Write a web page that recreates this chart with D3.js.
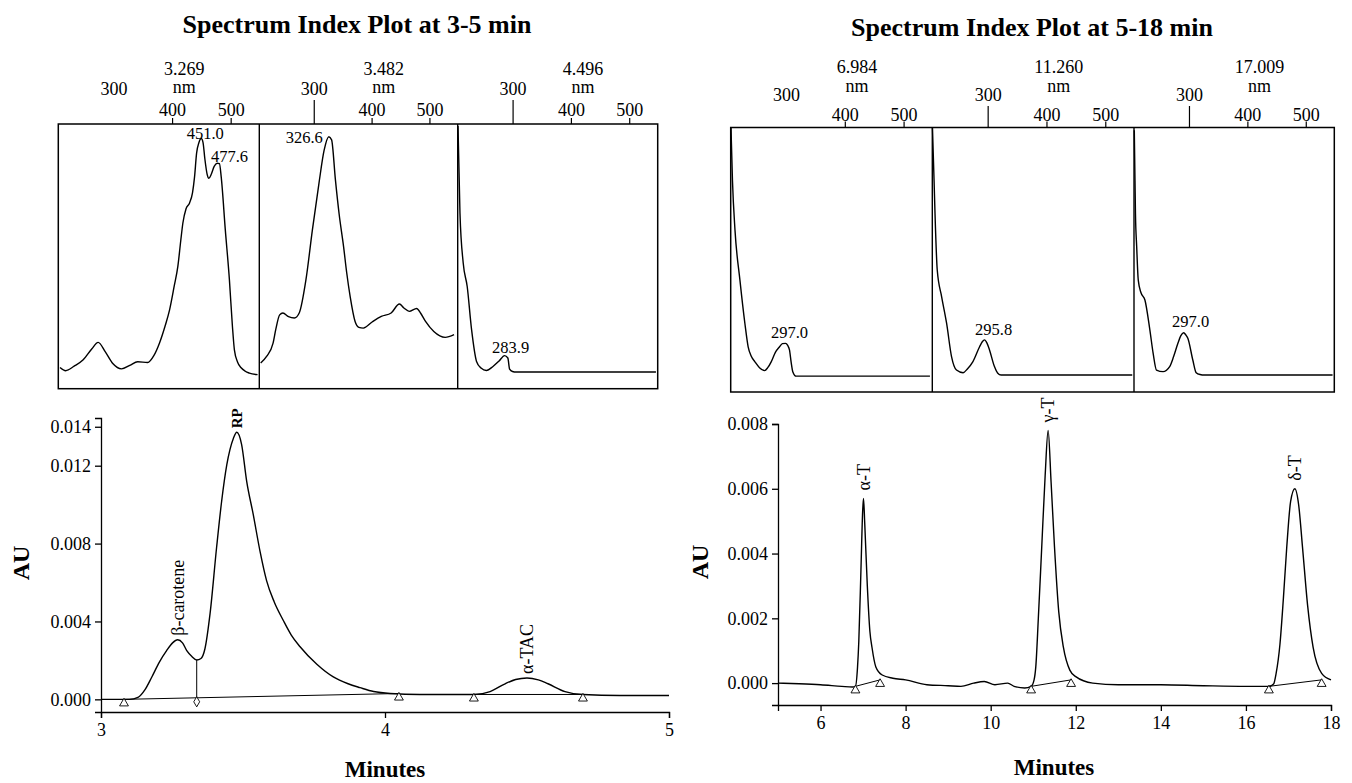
<!DOCTYPE html>
<html><head><meta charset="utf-8">
<script src="https://cdn.jsdelivr.net/npm/d3@7"></script>
<style>
body{margin:0;background:#fff}
svg{display:block}
</style>
</head><body>
<svg id="c" width="1352" height="783"></svg>
<script>
// ---------------- DATA ----------------
const titles = ["Spectrum Index Plot at 3-5 min", "Spectrum Index Plot at 5-18 min"];
const spectrumTicks = [300, 400, 500];
const spectrumTimesLeft = ["3.269", "3.482", "4.496"];
const spectrumTimesRight = ["6.984", "11.260", "17.009"];

// spectra: [wavelength nm, relative absorbance]
const specBetaCarotene = [[207.9,0.080],[217.6,0.068],[232,0.085],[247.5,0.109],[262,0.150],[273,0.175],[285,0.140],[298,0.095],[312.8,0.075],[327,0.088],[340.5,0.102],[357.5,0.099],[368,0.125],[377.9,0.174],[387,0.235],[394.9,0.298],[403,0.390],[409,0.462],[414,0.560],[417.6,0.626],[423,0.680],[429,0.702],[434,0.74],[437.5,0.80],[441,0.89],[445,0.93],[449,0.945],[452,0.93],[455,0.87],[459,0.81],[462,0.795],[466,0.81],[471,0.84],[476,0.852],[480,0.85],[483,0.80],[490,0.60],[497,0.411],[502,0.24],[505.5,0.147],[511,0.100],[517,0.079],[524,0.066],[531,0.059],[545,0.053]];
const specRP = [[207.4,0.097],[217.6,0.122],[228.8,0.172],[233.4,0.223],[240.2,0.279],[245.8,0.286],[255.5,0.272],[265.7,0.267],[274.2,0.287],[285.6,0.411],[296.8,0.600],[308.2,0.777],[317,0.90],[325.2,0.952],[330,0.94],[336.6,0.789],[343,0.66],[350.7,0.537],[356,0.44],[362.1,0.348],[370.6,0.254],[377,0.232],[384.8,0.229],[400,0.252],[415.9,0.273],[432.9,0.286],[447.2,0.320],[455,0.305],[464.2,0.292],[477.1,0.303],[484,0.285],[492.4,0.254],[506.7,0.216],[526.4,0.194],[541.7,0.204]];
const specATAC = [[205.5,0.992],[208.9,0.663],[214.5,0.474],[221.3,0.386],[228.8,0.223],[237.3,0.103],[245,0.078],[254.3,0.069],[265.5,0.084],[276,0.105],[285.4,0.125],[291,0.116],[294,0.074],[299,0.065],[305.3,0.063],[545,0.063]];
const specAT = [[205.5,0.998],[208,0.80],[212.3,0.612],[220.7,0.423],[229.1,0.260],[234.7,0.171],[240,0.135],[246,0.115],[254,0.092],[262.8,0.081],[268,0.092],[274.1,0.115],[281,0.150],[288.1,0.171],[293,0.183],[298.3,0.184],[302,0.176],[305,0.159],[308,0.110],[310.6,0.077],[316.3,0.060],[544,0.060]];
const specGT = [[205.3,0.998],[208,0.80],[209.6,0.676],[213.4,0.461],[220.9,0.360],[229.3,0.260],[237.7,0.134],[246.1,0.083],[257.3,0.073],[265,0.088],[274.1,0.115],[285.4,0.171],[290,0.190],[293.9,0.197],[298,0.185],[302.3,0.159],[310.7,0.096],[316,0.072],[322,0.064],[545,0.064]];
const specDT = [[205.5,0.99],[206.7,0.80],[207.5,0.676],[209.6,0.549],[212.3,0.423],[217,0.375],[223.7,0.348],[232.2,0.234],[237.8,0.146],[243.5,0.083],[254.7,0.077],[266.1,0.096],[273,0.135],[280.2,0.184],[285,0.212],[289.9,0.224],[294,0.215],[297.2,0.203],[305.7,0.121],[311.5,0.073],[318,0.066],[325.5,0.064],[545,0.064]];

// spectrum peak labels: [panel, text, nm, value]
const spectrumPeaksLeft = [[0,"451.0",449,0.945],[0,"477.6",480,0.852],[1,"326.6",325.2,0.952],[2,"283.9",285.4,0.125]];
const spectrumPeaksRight = [[0,"297.0",298.3,0.184],[1,"295.8",293.9,0.197],[2,"297.0",289.9,0.224]];

// chromatograms: [minutes, AU]
const chromLeft = [[3.00,0.0000],[3.10,0.0000],[3.13,0.0001],[3.155,0.0005],[3.179,0.00115],[3.205,0.0019],[3.231,0.0025],[3.252,0.0029],[3.270,0.00306],[3.287,0.0029],[3.302,0.0025],[3.320,0.0022],[3.337,0.00202],[3.352,0.0021],[3.366,0.0026],[3.384,0.0044],[3.407,0.0078],[3.425,0.0102],[3.443,0.01205],[3.466,0.0134],[3.478,0.01372],[3.495,0.0131],[3.513,0.0112],[3.536,0.0095],[3.560,0.0076],[3.583,0.0061],[3.610,0.0050],[3.642,0.00405],[3.670,0.0033],[3.701,0.0027],[3.76,0.0018],[3.818,0.00115],[3.87,0.0008],[3.912,0.0006],[3.96,0.0004],[4.018,0.0003],[4.123,0.00025],[4.25,0.00025],[4.313,0.00025],[4.37,0.0004],[4.423,0.0008],[4.46,0.00102],[4.50,0.0011],[4.54,0.00100],[4.574,0.0008],[4.634,0.0004],[4.697,0.00025],[4.827,0.0002],[5.00,0.0002]];
const chromRight = [[5.0,0.0000],[5.5,-0.00002],[6.0,-0.00005],[6.5,-0.0001],[6.75,-0.00012],[6.82,-0.0001],[6.87,0.0005],[6.90,0.0013],[6.95,0.0035],[6.99,0.0053],[7.01,0.0057],[7.04,0.0049],[7.10,0.0030],[7.16,0.0016],[7.21,0.0011],[7.30,0.0005],[7.45,0.00025],[7.7,0.00015],[8.0,0.0001],[8.5,-0.00005],[9.0,-0.00008],[9.3,-0.0001],[9.6,0.0000],[9.85,0.00005],[10.1,-0.00005],[10.4,0.0000],[10.55,-0.0001],[10.8,-0.00015],[10.95,-0.0001],[11.02,0.0001],[11.06,0.0005],[11.12,0.0020],[11.20,0.0042],[11.28,0.0064],[11.35,0.0078],[11.42,0.0062],[11.50,0.0042],[11.60,0.0022],[11.71,0.0011],[11.86,0.0004],[12.0,0.0002],[12.4,0.0000],[13,-0.00005],[14,-0.00005],[15,-0.00008],[16,-0.0001],[16.54,-0.0001],[16.65,-0.00003],[16.71,0.0003],[16.80,0.0012],[16.88,0.0026],[16.96,0.0042],[17.05,0.0056],[17.15,0.0060],[17.24,0.0055],[17.33,0.0042],[17.45,0.0024],[17.58,0.0011],[17.78,0.0003],[18.0,0.0001]];

const xTicksLeft = [3, 4, 5];
const yTicksLeft = [0.000, 0.004, 0.008, 0.012, 0.014];
const xTicksRight = [6, 8, 10, 12, 14, 16, 18];
const yTicksRight = [0.000, 0.002, 0.004, 0.006, 0.008];

// peak names: [text, minutes, AU, bold]
const peakNamesLeft = [["β-carotene",3.270,0.00306,false],["RP",3.478,0.01372,true],["α-TAC",4.50,0.0011,false]];
const peakNamesRight = [["α-T",7.01,0.0057,false],["γ-T",11.35,0.0078,false],["δ-T",17.15,0.0060,false]];

// integration markers: [minutes, AU, shape]
const markersLeft = [[3.081,0.0000,"tri"],[3.337,0.00008,"dia"],[4.049,0.0003,"tri"],[4.313,0.00025,"tri"],[4.697,0.00025,"tri"]];
const markersRight = [[6.82,-0.0001,"tri"],[7.40,0.0001,"tri"],[10.95,-0.0001,"tri"],[11.89,0.0001,"tri"],[16.54,-0.0001,"tri"],[17.78,0.0001,"tri"]];
// integration baselines / drop lines
const baselinesLeft = [[[3.081,0.0000],[4.049,0.0003]],[[4.313,0.00025],[4.697,0.00025]],[[3.337,0.00202],[3.337,0.00008]]];
const baselinesRight = [[[6.82,-0.0001],[7.40,0.0001]],[[10.95,-0.0001],[11.89,0.0001]],[[16.54,-0.0001],[17.78,0.0001]]];

// ---------------- DRAWING ----------------
const FONT = '"Liberation Serif","Times New Roman",Times,serif';
const svg = d3.select("#c").attr("font-family", FONT);

svg.append("text").attr("x",357).attr("y",33).attr("text-anchor","middle")
  .attr("font-size",26).attr("font-weight","bold").text(titles[0]);
svg.append("text").attr("x",1032).attr("y",36).attr("text-anchor","middle")
  .attr("font-size",26).attr("font-weight","bold").text(titles[1]);

const specGroups = [
  {edges:[58.3,259.3,457.7,657.7], top:124, bottom:388.7,
   ly:{time:74.5, nm:93, t300:95, t400:115.5, longTop:100, shortTop:118},
   series:[specBetaCarotene,specRP,specATAC], times:spectrumTimesLeft, peaks:spectrumPeaksLeft,
   peakOff:[[4,0,"middle"],[10,-1,"middle"],[-6,6,"end"],[6,-3,"middle"]]},
  {edges:[730.7,932.3,1134,1334.3], top:127.5, bottom:392,
   ly:{time:73, nm:92, t300:100.5, t400:120.5, longTop:106, shortTop:121.5},
   series:[specAT,specGT,specDT], times:spectrumTimesRight, peaks:spectrumPeaksRight,
   peakOff:[[4,-5,"middle"],[9,-5,"middle"],[7,-6,"middle"]]}
];

specGroups.forEach(g => {
  const ys = d3.scaleLinear().domain([0,1]).range([g.bottom, g.top]);
  for (let i = 0; i < 3; i++) {
    const xs = d3.scaleLinear().domain([205,548]).range([g.edges[i], g.edges[i+1]]);
    const line = d3.line().x(d => xs(d[0])).y(d => ys(d[1])).curve(d3.curveMonotoneX);
    svg.append("path").attr("d", line(g.series[i])).attr("fill","none")
      .attr("stroke","#000").attr("stroke-width",1.4);
    spectrumTicks.forEach(t => {
      if (t === 300) {
        svg.append("text").attr("x", xs(t)).attr("y", g.ly.t300).attr("text-anchor","middle")
          .attr("font-size",18).text(t);
        if (i > 0) svg.append("line").attr("x1",xs(t)).attr("x2",xs(t)).attr("y1",g.ly.longTop).attr("y2",g.top)
          .attr("stroke","#000").attr("stroke-width",1.2);
      } else {
        svg.append("text").attr("x", xs(t)).attr("y", g.ly.t400).attr("text-anchor","middle")
          .attr("font-size",18).text(t);
        svg.append("line").attr("x1",xs(t)).attr("x2",xs(t)).attr("y1",g.ly.shortTop).attr("y2",g.top)
          .attr("stroke","#000").attr("stroke-width",1.2);
      }
    });
    svg.append("text").attr("x", xs(420)).attr("y", g.ly.time).attr("text-anchor","middle")
      .attr("font-size",18).text(g.times[i]);
    svg.append("text").attr("x", xs(420)).attr("y", g.ly.nm).attr("text-anchor","middle")
      .attr("font-size",18).text("nm");
    g.peaks.forEach((p, k) => {
      if (p[0] !== i) return;
      const off = g.peakOff[k];
      svg.append("text").attr("x", xs(p[2]) + off[0]).attr("y", ys(p[3]) + off[1])
        .attr("text-anchor", off[2]).attr("font-size",16.5).text(p[1]);
    });
  }
  // frame & dividers
  svg.append("rect").attr("x",g.edges[0]).attr("y",g.top).attr("width",g.edges[3]-g.edges[0])
    .attr("height",g.bottom-g.top).attr("fill","none").attr("stroke","#000").attr("stroke-width",1.5);
  [g.edges[1], g.edges[2]].forEach(x => svg.append("line").attr("x1",x).attr("x2",x)
    .attr("y1",g.top).attr("y2",g.bottom).attr("stroke","#000").attr("stroke-width",1.4));
});

const chromCfg = [
  {x0:101, x1:669, yTop:418, yBot:712, xDom:[3,5], yDom:[-0.00065,0.01445],
   xTicks:xTicksLeft, yTicks:yTicksLeft, signal:chromLeft, names:peakNamesLeft,
   markers:markersLeft, baselines:baselinesLeft, gap:4, au:[21,563], min:[385,777]},
  {x0:778, x1:1331, yTop:424, yBot:705, xDom:[5,18], yDom:[-0.000676,0.008],
   xTicks:xTicksRight, yTicks:yTicksRight, signal:chromRight, names:peakNamesRight,
   markers:markersRight, baselines:baselinesRight, gap:8, au:[700,562], min:[1054,775]}
];

chromCfg.forEach(c => {
  const xs = d3.scaleLinear().domain(c.xDom).range([c.x0, c.x1]);
  const ys = d3.scaleLinear().domain(c.yDom).range([c.yBot, c.yTop]);

  const gx = svg.append("g").attr("transform",`translate(0,${c.yBot})`)
    .call(d3.axisBottom(xs).tickValues(c.xTicks).tickFormat(d3.format("d")).tickSizeOuter(0).tickSize(6).tickPadding(5));
  const gy = svg.append("g").attr("transform",`translate(${c.x0},0)`)
    .call(d3.axisLeft(ys).tickValues(c.yTicks).tickFormat(d3.format(".3f")).tickSizeOuter(0).tickSize(6).tickPadding(4));
  [gx, gy].forEach(g => {
    g.attr("font-family", FONT).attr("font-size", 18);
    g.selectAll("path,line").attr("stroke","#000").attr("stroke-width",1.3);
    g.selectAll("text").attr("fill","#000");
  });

  const line = d3.line().x(d => xs(d[0])).y(d => ys(d[1])).curve(d3.curveMonotoneX);
  svg.append("path").attr("d", line(c.signal)).attr("fill","none")
    .attr("stroke","#000").attr("stroke-width",1.4);

  const segLine = d3.line().x(d => xs(d[0])).y(d => ys(d[1]));
  c.baselines.forEach(b => svg.append("path").attr("d", segLine(b)).attr("fill","none")
    .attr("stroke","#000").attr("stroke-width",1));

  c.markers.forEach(m => {
    const sym = d3.symbol().type(m[2] === "tri" ? d3.symbolTriangle : d3.symbolDiamond).size(m[2] === "tri" ? 34 : 30);
    svg.append("path").attr("d", sym()).attr("transform",`translate(${xs(m[0])},${ys(m[1]) + 4})`)
      .attr("fill","#fff").attr("stroke","#000").attr("stroke-width",0.9);
  });

  c.names.forEach(n => {
    const px = xs(n[1]), py = ys(n[2]) - c.gap;
    svg.append("text").attr("transform",`translate(${px},${py}) rotate(-90)`)
      .attr("dy","0.35em").attr("text-anchor","start")
      .attr("font-size", n[3] ? 15 : 18).attr("font-weight", n[3] ? "bold" : "normal").text(n[0]);
  });

  svg.append("text").attr("transform",`translate(${c.au[0]},${c.au[1]}) rotate(-90)`)
    .attr("dy","0.35em").attr("text-anchor","middle").attr("font-size",24).attr("font-weight","bold").text("AU");
  svg.append("text").attr("x",c.min[0]).attr("y",c.min[1]).attr("text-anchor","middle")
    .attr("font-size",23).attr("font-weight","bold").text("Minutes");
});
</script>
</body></html>
